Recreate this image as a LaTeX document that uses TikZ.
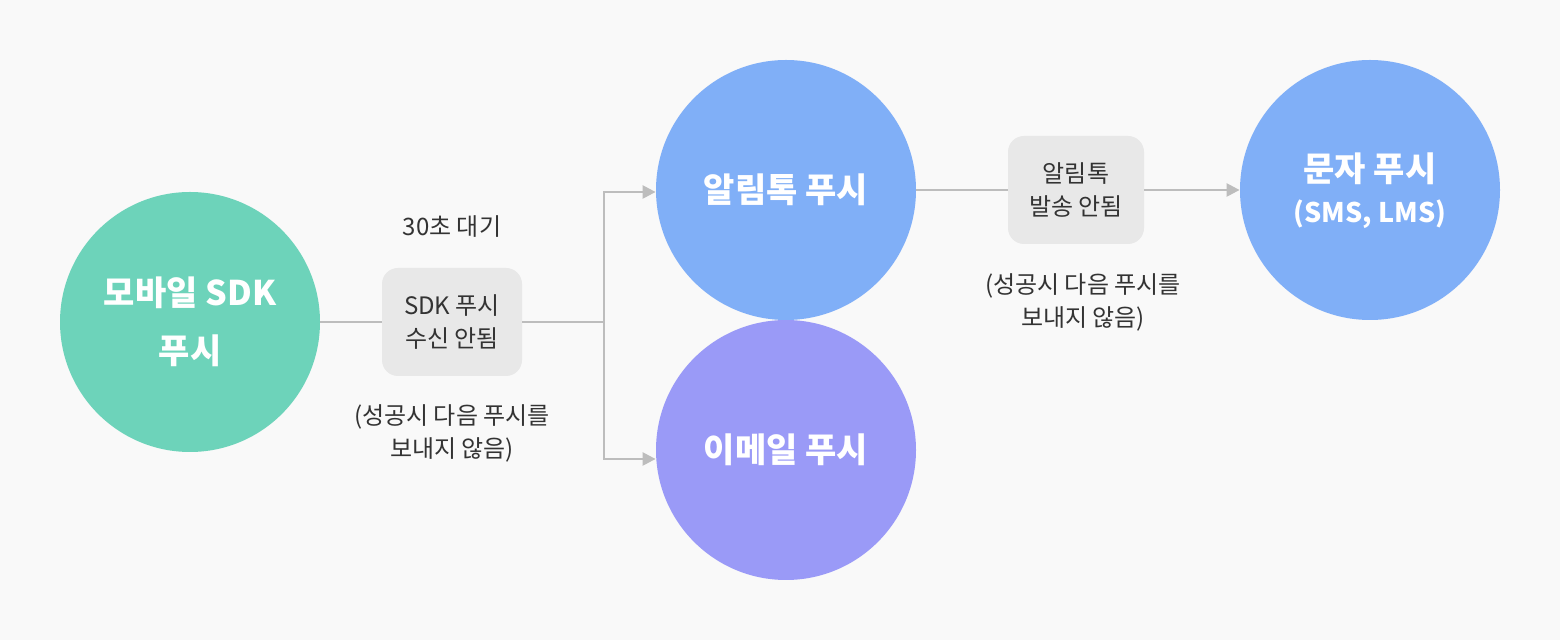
\documentclass[tikz,border=0pt]{standalone}
\usepackage{fontspec}
\setmainfont{Noto Sans CJK KR}
\usetikzlibrary{arrows.meta}
\definecolor{bg}{HTML}{F9F9F9}
\definecolor{cgreen}{HTML}{6DD3BA}
\definecolor{cblue}{HTML}{80AFF7}
\definecolor{cpurple}{HTML}{9A9AF7}
\definecolor{boxfill}{HTML}{E8E8E8}
\definecolor{linec}{HTML}{BDBDBD}
\definecolor{txt}{HTML}{333333}
\tikzset{
  bubble/.style={circle, minimum size=130pt, inner sep=0pt, text=white, align=center,
    font=\bfseries\fontsize{17}{29}\selectfont},
  graybox/.style={rounded corners=8pt, fill=boxfill, minimum width=70pt, minimum height=54pt,
    inner sep=0pt, align=center, text=txt, font=\fontsize{12}{16.5}\selectfont},
  note/.style={align=center, text=txt, inner sep=0pt, font=\fontsize{12}{16.5}\selectfont},
  conn/.style={draw=linec, line width=1.2pt},
  arr/.style={conn, -{Triangle[length=6.5pt,width=6.5pt]}}
}
\begin{document}
\begin{tikzpicture}[x=0.5pt,y=-0.5pt]
\useasboundingbox (0,0) rectangle (1560,640);
\fill[bg] (0,0) rectangle (1560,640);
% circles
\node[bubble, fill=cgreen] (sdk) at (190,322) {모바일 SDK\\푸시};
\node[bubble, fill=cblue] (alim) at (786,190) {알림톡 푸시};
\node[bubble, fill=cpurple] (mail) at (786,450) {이메일 푸시};
\node[bubble, fill=cblue] (sms) at (1370,190) {};
\node[text=white, font=\bfseries\fontsize{17}{20}\selectfont, inner sep=0pt] (smsA) at (1370,169) {문자 푸시};
\node[text=white, font=\bfseries\fontsize{13.5}{16}\selectfont, inner sep=0pt] (smsB) at (1370,214) {(SMS, LMS)};
% boxes
\node[graybox] (box1) at (452,322) {SDK 푸시\\수신 안됨};
\node[graybox, minimum width=68pt] (box2) at (1076,190) {알림톡\\발송 안됨};
% notes
\node[note] (wait) at (452,227) {30초 대기};
\node[note] (n1) at (452,433) {(성공시 다음 푸시를\\보내지 않음)};
\node[note] (n2) at (1083,302) {(성공시 다음 푸시를\\보내지 않음)};
% connectors
\coordinate (j) at (604,322);
\draw[conn] (sdk.east) -- (box1.west);
\draw[conn] (box1.east) -- (j);
\draw[arr] (j) |- (alim.west |- 0,192);
\draw[arr] (j) |- ([yshift=-4.5pt]mail.west);
\draw[conn] (alim.east) -- (box2.west);
\draw[arr] (box2.east) -- (sms.west);
\end{tikzpicture}
\end{document}
